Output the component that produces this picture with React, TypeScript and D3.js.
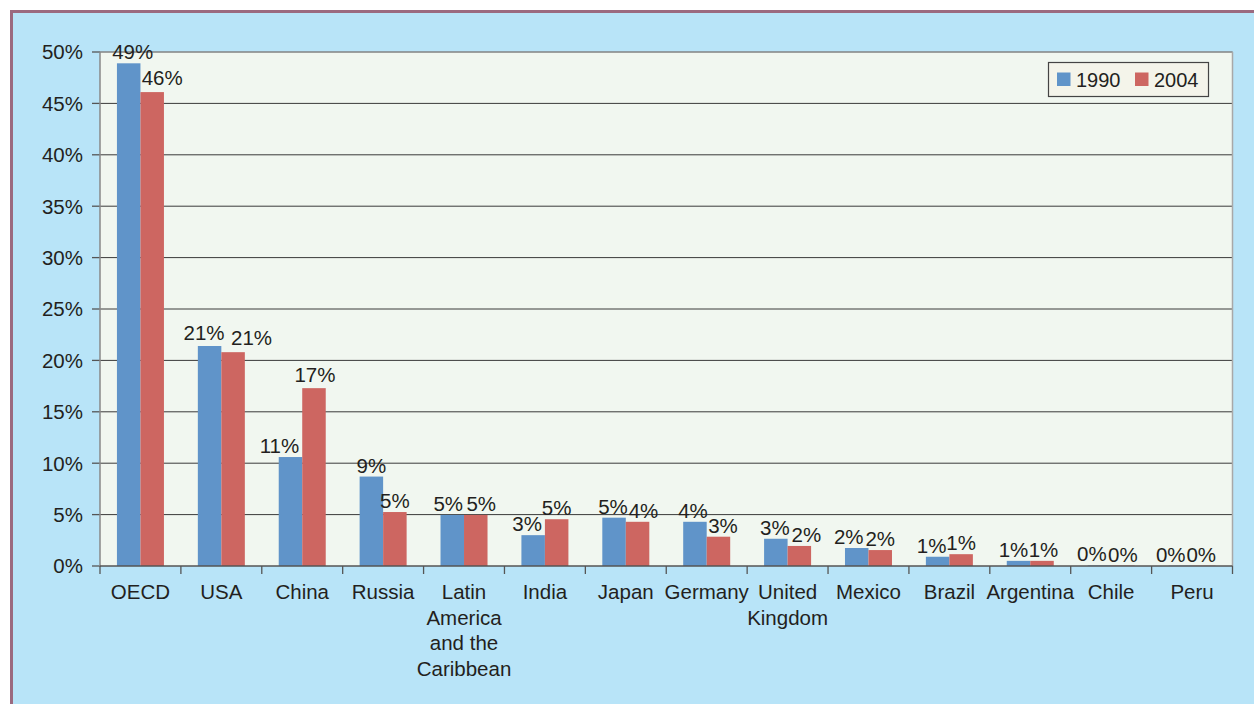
import React from "react";
import * as d3 from "d3";

const categories: string[][] = [
  ["OECD"], ["USA"], ["China"], ["Russia"], ["Latin", "America", "and the", "Caribbean"],
  ["India"], ["Japan"], ["Germany"], ["United", "Kingdom"], ["Mexico"], ["Brazil"],
  ["Argentina"], ["Chile"], ["Peru"],
];
const values1990: number[] = [48.9, 21.4, 10.6, 8.7, 4.97, 3.0, 4.7, 4.3, 2.65, 1.75, 0.9, 0.5, 0.05, 0.03];
const values2004: number[] = [46.1, 20.8, 17.3, 5.25, 4.97, 4.55, 4.3, 2.85, 1.95, 1.55, 1.15, 0.5, 0.04, 0.03];
const labels1990: string[] = ["49%", "21%", "11%", "9%", "5%", "3%", "5%", "4%", "3%", "2%", "1%", "1%", "0%", "0%"];
const labels2004: string[] = ["46%", "21%", "17%", "5%", "5%", "5%", "4%", "3%", "2%", "2%", "1%", "1%", "0%", "0%"];
const yTicks: number[] = [0, 5, 10, 15, 20, 25, 30, 35, 40, 45, 50];
const seriesNames: string[] = ["1990", "2004"];

// label placement nudges (layout only, in px)
const labelDx1990 = [4, -5.5, -11, 0, -4, -6, -1, -2, -1, -8, -6, -5, -7.5, -9.5];
const labelDx2004 = [10, 18.5, 1, 0, 5.5, 0, 6, 4.5, 7, 0, 0, 1.5, 0, -2.5];
const labelDy1990 = [0, -2, 0, 0, 0, 0, 0, 0, 0, 0, 0, 0, 0, 0];
const labelDy2004 = [-3, -3, -2, 0, 0, 0, 0, 0, 0, 0, 0, 0, 0, 0];

const W = 1254, H = 704;
const plotL = 100, plotR = 1232.5, plotT = 52, plotB = 566;
const BLUE = "#6094c9", RED = "#cd6661";
const FONT = "'Liberation Sans', Arial, Helvetica, sans-serif";
const FS = 20.5;

export default function App() {
  const x = d3.scaleBand<number>().domain(d3.range(categories.length)).range([plotL, plotR]).padding(0);
  const y = d3.scaleLinear().domain([0, 50]).range([plotB, plotT]);
  const bw = 23.5;
  const bars = [values1990, values2004];
  const labs = [labels1990, labels2004];
  const dxs = [labelDx1990, labelDx2004];
  const dys = [labelDy1990, labelDy2004];
  const colors = [BLUE, RED];

  return (
    <svg width={W} height={H} style={{ position: "absolute", left: 0, top: 0 }} fontFamily={FONT}>
      <rect x={0} y={0} width={W} height={H} fill="#ffffff" />
      <rect x={11.5} y={11.5} width={W + 10} height={H + 10} fill="#b8e4f8" stroke="#9b6a80" strokeWidth={3} />
      <rect x={plotL} y={plotT} width={plotR - plotL} height={plotB - plotT} fill="#f1f7f0" />
      {yTicks.map((t) => (
        <g key={t}>
          {t > 0 && (
            <line x1={plotL} x2={plotR} y1={y(t)} y2={y(t)} stroke="#3a3a3a" strokeWidth={1} />
          )}
          <line x1={92} x2={plotL} y1={y(t)} y2={y(t)} stroke="#555" strokeWidth={1.3} />
          <text x={83} y={y(t)} dy="0.36em" textAnchor="end" fontSize={FS} fill="#231f20">
            {t}%
          </text>
        </g>
      ))}
      <line x1={plotR} x2={plotR} y1={plotT} y2={plotB} stroke="#a8a8a8" strokeWidth={1.5} />
      <line x1={plotL} x2={plotR} y1={plotT} y2={plotT} stroke="#a8a8a8" strokeWidth={1} />
      {bars.map((vals, s) =>
        vals.map((v, i) => {
          const cx = (x(i) as number) + x.bandwidth() / 2;
          const bx = cx - bw + s * bw;
          return <rect key={`b${s}-${i}`} x={bx} y={y(v)} width={bw} height={plotB - y(v)} fill={colors[s]} />;
        })
      )}
      {bars.map((vals, s) =>
        vals.map((v, i) => {
          const cx = (x(i) as number) + x.bandwidth() / 2;
          const bx = cx - bw + s * bw;
          return (
            <text key={`t${s}-${i}`} x={bx + bw / 2 + dxs[s][i]} y={y(v) - 4 + dys[s][i]} textAnchor="middle" fontSize={FS} fill="#231f20">
              {labs[s][i]}
            </text>
          );
        })
      )}
      <line x1={plotL} x2={plotL} y1={plotT} y2={plotB + 1} stroke="#888" strokeWidth={1.5} />
      <line x1={plotL} x2={plotR} y1={plotB} y2={plotB} stroke="#555" strokeWidth={1.5} />
      {d3.range(categories.length + 1).map((i) => {
        const tx = i < categories.length ? (x(i) as number) : plotR;
        return <line key={i} x1={tx} x2={tx} y1={plotB} y2={plotB + 8} stroke="#555" strokeWidth={1.3} />;
      })}
      {categories.map((lines, i) => (
        <text key={i} x={(x(i) as number) + x.bandwidth() / 2} y={599} textAnchor="middle" fontSize={FS} fill="#231f20">
          {lines.map((l, k) => (
            <tspan key={k} x={(x(i) as number) + x.bandwidth() / 2} dy={k === 0 ? 0 : 25.6}>
              {l}
            </tspan>
          ))}
        </text>
      ))}
      <g>
        <rect x={1048.5} y={62.5} width={160} height={34} fill="#f4f4ea" stroke="#444" strokeWidth={1.2} />
        {seriesNames.map((n, s) => (
          <g key={n} transform={`translate(${1057 + s * 78},0)`}>
            <rect x={0} y={72.5} width={13.5} height={13.5} fill={colors[s]} />
            <text x={19} y={86.5} fontSize={20} fill="#231f20">{n}</text>
          </g>
        ))}
      </g>
    </svg>
  );
}
